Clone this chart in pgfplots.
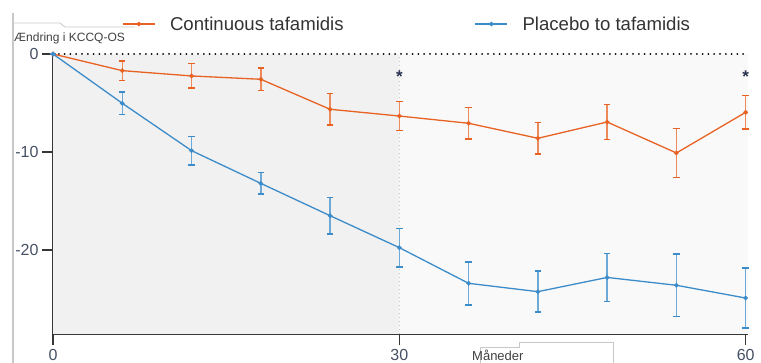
\documentclass[border=0pt]{standalone}
\usepackage{pgfplots}
\pgfplotsset{compat=1.18}
\usepackage{fontspec}
\setmainfont{Liberation Sans}
\definecolor{corange}{RGB}{232,98,36}
\definecolor{cblue}{RGB}{60,140,202}
\definecolor{axgray}{RGB}{55,55,55}
\definecolor{ticklab}{RGB}{70,80,100}
\definecolor{bgleft}{RGB}{241,241,241}
\definecolor{bgright}{RGB}{249,249,249}
\definecolor{artgray}{RGB}{200,200,200}

\pgfplotstableread{
x y e
0 0 0
6 -1.7 1.0
12 -2.24 1.25
18 -2.58 1.15
24 -5.64 1.6
30 -6.33 1.5
36 -7.07 1.6
42 -8.6 1.6
48 -6.94 1.8
54 -10.1 2.5
60 -5.95 1.7
}\orangedata

\pgfplotstableread{
x y e
0 0 0
6 -5.03 1.15
12 -9.86 1.45
18 -13.2 1.1
24 -16.5 1.85
30 -19.76 1.95
36 -23.4 2.2
42 -24.25 2.1
48 -22.8 2.45
54 -23.6 3.2
60 -24.9 3.05
}\bluedata

\begin{document}
\begin{tikzpicture}[x=1pt,y=1pt]
\useasboundingbox (0,0) rectangle (761,363);
% screenshot frame artifacts
\draw[artgray, line width=1.2pt] (13,350) -- (13,0);
\draw[artgray, line width=0.8pt] (13,340) -- (60,340) -- (65,336) -- (135,336);
\draw[artgray, line width=0.8pt] (480,0) -- (480,16) -- (519,16) -- (519,21) -- (613,21) -- (613,0);
\node[anchor=west, font=\fontsize{12}{13}\selectfont, text=black!75, inner sep=0pt] at (14,325) {Ændring i KCCQ-OS};
\node[anchor=west, font=\fontsize{13}{14}\selectfont, text=black!75, inner sep=0pt] at (472,8) {Måneder};
\begin{axis}[
  at={(53pt,29pt)}, anchor=south west, scale only axis,
  width=695pt, height=280pt,
  xmin=0, xmax=60.2, ymin=-28.57, ymax=0,
  axis x line*=bottom, axis y line*=left,
  axis line style={-, line width=1.6pt, axgray},
  xtick={0,30,60}, xticklabels={0,30,60},
  ytick={-20,-10,0}, yticklabels={-20,-10,0},
  tick align=outside, major tick length=11pt,
  tick style={line width=1.6pt, axgray},
  ticklabel style={font=\fontsize{16}{18}\selectfont, text=ticklab},
  xticklabel style={yshift=-1pt},
  clip=false,
  legend columns=2,
  legend style={draw=none, fill=none, at={(0.095,1.107)}, anchor=west,
    font=\fontsize{18.6}{20.5}\selectfont, text=black!80,
    /tikz/every odd column/.append style={column sep=12.5pt},
    /tikz/every even column/.append style={column sep=129pt}},
  legend image code/.code={\draw[#1, mark repeat=2, mark phase=2] plot coordinates {(0pt,0pt) (16pt,0pt) (32pt,0pt)};},
]
\fill[bgleft] (axis cs:0,-28.57) rectangle (axis cs:30,0);
\fill[bgright] (axis cs:30,-28.57) rectangle (axis cs:60.2,0);
\draw[gray!45, line width=0.8pt, dash pattern=on 1pt off 3pt] (axis cs:30,-28.57) -- (axis cs:30,0);
\draw[black, line width=2pt, line cap=round, dash pattern=on 0pt off 5.8pt] (axis cs:0,0) -- (axis cs:60.2,0);

\addplot[corange, line width=1.3pt, mark=*, mark size=1.6pt,
  error bars/.cd, y dir=both, y explicit,
  error bar style={line width=1.5pt, corange!75},
  error mark options={rotate=90, mark size=3.2pt, line width=1.5pt, corange}]
  table[x=x, y=y, y error=e] {\orangedata};
\addlegendentry{Continuous tafamidis}
\addplot[cblue, line width=1.3pt, mark=*, mark size=1.6pt,
  error bars/.cd, y dir=both, y explicit,
  error bar style={line width=1.5pt, cblue!75},
  error mark options={rotate=90, mark size=3.2pt, line width=1.5pt, cblue}]
  table[x=x, y=y, y error=e] {\bluedata};
\addlegendentry{Placebo to tafamidis}

\node[font=\bfseries\fontsize{17}{17}\selectfont, text={rgb,255:red,40;green,50;blue,80}] at (axis cs:30,-2.3) {*};
\node[font=\bfseries\fontsize{17}{17}\selectfont, text={rgb,255:red,40;green,50;blue,80}] at (axis cs:60,-2.3) {*};
\end{axis}
\end{tikzpicture}
\end{document}
